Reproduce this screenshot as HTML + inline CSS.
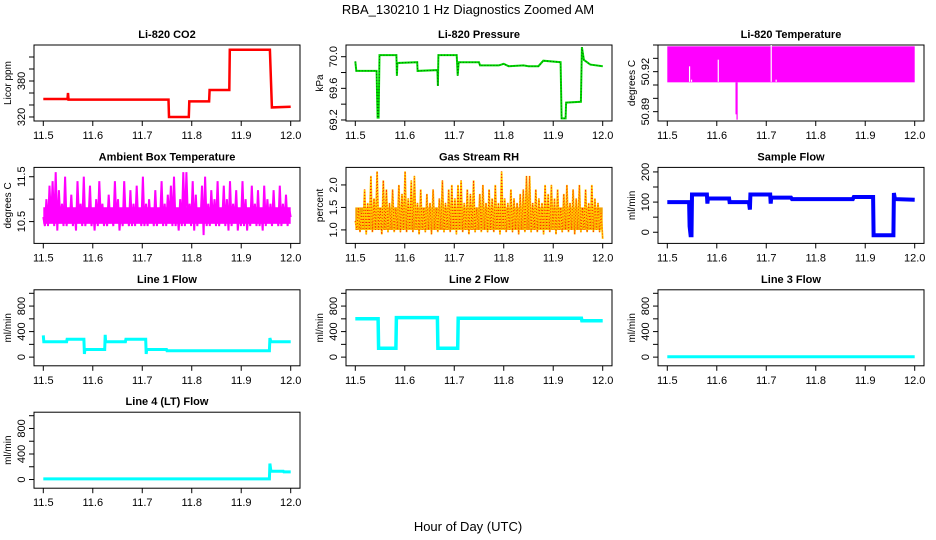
<!DOCTYPE html>
<html><head><meta charset="utf-8"><style>
html,body{margin:0;padding:0;background:#fff;width:936px;height:540px;overflow:hidden}
svg{display:block;font-family:"Liberation Sans",Arial,sans-serif}
</style></head><body>
<svg id="chart" width="936" height="540" viewBox="0 0 936 540" xmlns="http://www.w3.org/2000/svg">
<text x="468" y="14" text-anchor="middle" font-size="13">RBA_130210  1 Hz Diagnostics Zoomed AM</text>
<text x="468" y="531" text-anchor="middle" font-size="13">Hour of Day (UTC)</text>
</svg>
<script>
const xTicks = [11.5, 11.6, 11.7, 11.8, 11.9, 12.0];
const xTickLabels = ["11.5", "11.6", "11.7", "11.8", "11.9", "12.0"];

const co2T = [11.5,11.549,11.55,11.551,11.753,11.754,11.794,11.795,11.835,11.836,11.876,11.877,11.958,11.962,12.0];
const co2V = [350,350,360,349,349,320,320,346,346,365,365,432,432,336,337];

const presT = [11.5,11.502,11.543,11.544,11.545,11.547,11.549,11.583,11.584,11.585,11.625,11.626,11.666,11.667,11.668,11.705,11.707,11.709,11.75,11.752,11.79,11.8,11.81,11.84,11.85,11.87,11.88,11.915,11.917,11.925,11.926,11.956,11.958,11.962,11.975,12.0];
const presV = [69.94,69.82,69.82,69.5,69.23,69.23,70.02,70.02,69.76,69.92,69.93,69.82,69.83,69.63,70.02,70.02,69.76,69.93,69.93,69.89,69.89,69.91,69.88,69.89,69.88,69.88,69.95,69.93,69.22,69.22,69.42,69.43,70.12,69.96,69.9,69.88];

const tempBandT = [11.5, 12.0];
const tempBandLo = [50.912, 50.912];
const tempBandHi = [50.939, 50.939];
const tempGapT = [11.545, 11.549, 11.603, 11.71, 11.72];
const tempGapTop = [50.924, 50.914, 50.929, 50.940, 50.914];
const tempSpikeT = [11.639, 11.641];
const tempSpikeV = [50.888, 50.884];

const ambBand = [10.45, 10.82];
const ambV = [10.6,10.4,11.0,10.4,11.3,10.5,11.4,10.4,11.6,10.3,11.2,10.5,10.9,10.4,11.5,10.4,10.8,10.5,11.1,10.4,
10.8,10.3,11.4,10.5,10.9,10.4,11.5,10.4,10.7,10.5,11.3,10.4,10.8,10.3,11.0,10.4,11.4,10.5,10.9,10.4,
10.8,10.4,11.1,10.5,10.7,10.4,11.4,10.5,11.0,10.3,10.8,10.4,11.4,10.5,10.8,10.4,11.2,10.4,10.9,10.4,
11.3,10.5,10.8,10.4,11.5,10.4,10.9,10.4,11.0,10.5,10.8,10.4,11.2,10.4,10.8,10.5,11.4,10.4,10.9,10.4,
11.1,10.5,11.3,10.4,11.5,10.4,10.8,10.3,11.0,10.4,11.6,10.4,11.6,10.5,10.9,10.4,11.4,10.3,11.1,10.4,
10.8,10.5,11.3,10.2,11.5,10.4,10.9,10.4,11.2,10.5,11.0,10.4,11.4,10.4,10.8,10.5,11.3,10.4,11.0,10.3,
11.4,10.4,10.9,10.5,11.2,10.3,10.8,10.4,11.4,10.4,11.0,10.3,10.8,10.4,11.3,10.5,10.9,10.4,11.2,10.4,
10.8,10.3,11.3,10.4,11.0,10.5,10.9,10.4,11.2,10.5,10.8,10.4,11.3,10.4,10.9,10.5,11.1,10.4,10.8,10.6];

const rhBand = [1.0, 1.5];
const rhV = [1.2,1.0,1.5,0.95,1.4,1.0,1.9,0.9,1.6,1.0,2.2,0.95,1.7,1.0,2.3,1.0,1.5,0.9,2.1,1.0,
1.9,0.95,1.6,1.0,1.9,0.95,1.5,1.0,2.0,0.95,1.8,1.0,2.3,0.95,1.7,1.0,2.1,0.95,2.2,1.0,
1.6,0.9,1.9,1.0,1.5,0.95,1.8,1.0,1.6,0.9,1.9,1.0,1.5,0.95,1.7,1.0,2.1,0.95,1.6,1.0,
1.9,0.95,2.0,1.0,1.7,0.9,2.0,1.0,2.1,0.95,1.6,1.0,1.9,0.9,1.8,1.0,2.1,0.95,1.5,1.0,
1.8,0.95,2.0,1.0,1.6,0.95,1.9,1.0,1.7,0.95,2.0,1.0,1.6,0.9,2.3,1.0,1.7,0.95,1.6,1.0,
1.9,0.95,1.7,1.0,1.6,0.9,1.8,1.0,1.9,0.95,2.2,1.0,2.2,0.95,1.6,1.0,1.9,0.95,1.7,1.0,
1.6,0.9,2.0,1.0,1.8,0.95,2.0,1.0,1.7,0.9,1.9,1.0,1.5,0.95,1.8,1.0,2.0,0.95,1.6,1.0,
1.9,0.9,1.7,1.0,2.0,0.95,1.5,1.0,1.9,0.95,1.6,1.0,2.0,0.95,1.7,1.0,1.6,0.95,1.4,0.8];

const sampT = [11.5,11.544,11.545,11.547,11.549,11.55,11.58,11.581,11.582,11.625,11.626,11.665,11.667,11.668,11.708,11.709,11.71,11.75,11.752,11.875,11.877,11.916,11.917,11.957,11.958,11.96,12.0];
const sampV = [100,100,20,-10,-10,125,125,95,112,112,100,100,75,125,125,95,115,115,110,110,117,117,-10,-10,130,110,108];

const l1T = [11.5,11.501,11.547,11.548,11.582,11.583,11.584,11.624,11.625,11.626,11.666,11.667,11.707,11.708,11.709,11.749,11.75,11.957,11.958,11.96,12.0];
const l1V = [340,240,240,280,280,50,120,120,350,240,240,280,280,50,120,120,100,100,300,240,240];

const l2T = [11.5,11.546,11.547,11.582,11.583,11.666,11.667,11.707,11.708,11.957,11.958,12.0];
const l2V = [600,600,140,140,620,620,140,140,610,610,570,570];

const l3T = [11.5, 12.0];
const l3V = [5, 5];

const l4T = [11.5,11.957,11.958,11.96,11.985,11.986,12.0];
const l4V = [10,10,250,130,130,120,120];

const NS = "http://www.w3.org/2000/svg";
const svg = document.getElementById("chart");
function mk(tag, attrs, parent) {
  const e = document.createElementNS(NS, tag);
  for (const k in attrs) e.setAttribute(k, attrs[k]);
  (parent || svg).appendChild(e);
  return e;
}

function panel(key, col, row, title, ylab, ylo, yhi, yt, ytl) {
  const L = 34 + 312 * col, R = 300 + 312 * col;
  const T = 45 + 122.4 * row, B = T + 76;
  const g = mk("g", {});
  
  
  const sx = t => L + 9.3 + (t - 11.5) / 0.5 * 247.4;
  const sy = v => B - (v - ylo) / (yhi - ylo) * (B - T);
  const tt = mk("text", {x: (L + R) / 2, y: T - 7, "text-anchor": "middle", "font-size": 11, "font-weight": "bold"}, g);
  tt.textContent = title;
  
  
  const box = mk("rect", {x: L, y: T, width: R - L, height: B - T, fill: "none", stroke: "#000", "stroke-width": 1}, g);
  
  
  const xa = mk("g", {}, g);
  
  
  xTicks.forEach((t, i) => {
    mk("line", {x1: sx(t), x2: sx(t), y1: B, y2: B + 5, stroke: "#000"}, xa);
    const lb = mk("text", {x: sx(t), y: B + 18, "text-anchor": "middle", "font-size": 11}, xa);
    lb.textContent = xTickLabels[i];
  });
  const ya = mk("g", {}, g);
  
  
  yt.forEach(v => { mk("line", {x1: L - 5, x2: L, y1: sy(v), y2: sy(v), stroke: "#000"}, ya); });
  ytl.forEach(v => {
    const lb = mk("text", {x: 0, y: 0, "text-anchor": "middle", "font-size": 11, transform: `translate(${L - 9},${sy(v)}) rotate(-90)`}, ya);
    lb.textContent = String(v);
  });
  const yl = mk("text", {x: 0, y: 0, "text-anchor": "middle", "font-size": 10, transform: `translate(${L - 23},${(T + B) / 2}) rotate(-90)`}, g);
  yl.textContent = ylab;
  
  
  return {g, sx, sy};
}

function line(p, key, T, V, color, w) {
  const pts = T.map((t, i) => p.sx(t).toFixed(1) + "," + p.sy(V[i]).toFixed(1)).join(" ");
  const pl = mk("polyline", {points: pts, fill: "none", stroke: color, "stroke-width": w, "stroke-linejoin": "miter"}, p.g);
  
  
  return pl;
}
function band(p, key, lo, hi, color) {
  const r = mk("rect", {x: p.sx(11.5), y: p.sy(hi), width: p.sx(12.0) - p.sx(11.5), height: p.sy(lo) - p.sy(hi), fill: color}, p.g);
  
  
}
function evenT(n) { const a = []; for (let i = 0; i < n; i++) a.push(11.5 + 0.5 * i / (n - 1)); return a; }

// Li-820 CO2
let p = panel("co2", 0, 0, "Li-820 CO2", "Licor ppm", 313.3, 440, [320,340,360,380,400,420], [320,380]);
line(p, "co2-series", co2T, co2V, "#ff0000", 2.5);

// Pressure
p = panel("pressure", 1, 0, "Li-820 Pressure", "kPa", 69.187, 70.148, [69.2,69.4,69.6,69.8,70.0], ["69.2","69.6","70.0"]);
line(p, "pressure-series", presT, presV, "#00dd00", 2);
line(p, "pressure-series-dots", presT, presV, "#006600", 1).setAttribute("stroke-dasharray", "1,2");

// Li-820 Temperature
p = panel("li820-temp", 2, 0, "Li-820 Temperature", "degrees C", 50.883, 50.94, [50.89,50.90,50.91,50.92,50.93,50.94], ["50.89","50.92"]);
{
  const bd = mk("rect", {x: p.sx(tempBandT[0]), y: p.sy(tempBandHi[0]), width: p.sx(tempBandT[1]) - p.sx(tempBandT[0]), height: p.sy(tempBandLo[0]) - p.sy(tempBandHi[0]), fill: "#ff00ff"}, p.g);
  
  
  tempGapT.forEach((t, i) => {
    const gl = mk("line", {x1: p.sx(t), x2: p.sx(t), y1: p.sy(tempGapTop[i]), y2: p.sy(tempBandLo[0]) - 0.5, stroke: "#fff", "stroke-width": 1.2}, p.g);
    
    
  });
  tempSpikeT.forEach((t, i) => {
    const sl = mk("line", {x1: p.sx(t), x2: p.sx(t), y1: p.sy(tempBandLo[0]), y2: p.sy(tempSpikeV[i]), stroke: "#ff00ff", "stroke-width": 1.2}, p.g);
    
    
  });
}

// Ambient Box Temperature
p = panel("ambient-temp", 0, 1, "Ambient Box Temperature", "degrees C", 10.014, 11.708, [10.5,11.0,11.5], ["10.5","11.5"]);
band(p, "ambient-temp-band", ambBand[0], ambBand[1], "#ff00ff");
line(p, "ambient-temp-series", evenT(ambV.length), ambV, "#ff00ff", 2);

// Gas Stream RH
p = panel("rh", 1, 1, "Gas Stream RH", "percent", 0.70, 2.39, [1.0,1.5,2.0], ["1.0","1.5","2.0"]);
band(p, "rh-band", rhBand[0], rhBand[1], "#f2a000");
line(p, "rh-series", evenT(rhV.length), rhV, "#ffcc00", 1.8);
line(p, "rh-series-dots", evenT(rhV.length), rhV, "#ff2200", 1).setAttribute("stroke-dasharray", "1,2");

// Sample Flow
p = panel("sample-flow", 2, 1, "Sample Flow", "ml/min", -37, 215, [0,50,100,150,200], [0,100,200]);
line(p, "sample-flow-series", sampT, sampV, "#0000ff", 4);

// Line flows
p = panel("line1-flow", 0, 2, "Line 1 Flow", "ml/min", -136, 1055, [0,200,400,600,800,1000], [0,400,800]);
line(p, "line1-flow-series", l1T, l1V, "#00ffff", 3);
p = panel("line2-flow", 1, 2, "Line 2 Flow", "ml/min", -136, 1055, [0,200,400,600,800,1000], [0,400,800]);
line(p, "line2-flow-series", l2T, l2V, "#00ffff", 3.5);
p = panel("line3-flow", 2, 2, "Line 3 Flow", "ml/min", -136, 1055, [0,200,400,600,800,1000], [0,400,800]);
line(p, "line3-flow-series", l3T, l3V, "#00ffff", 3);
p = panel("line4-flow", 0, 3, "Line 4 (LT) Flow", "ml/min", -136, 1055, [0,200,400,600,800,1000], [0,400,800]);
line(p, "line4-flow-series", l4T, l4V, "#00ffff", 3);
</script>
</body></html>
